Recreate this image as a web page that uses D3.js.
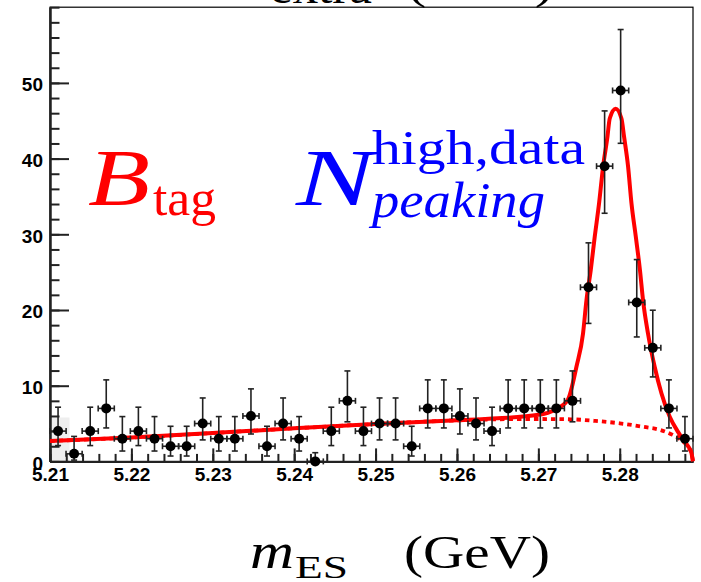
<!DOCTYPE html>
<html>
<head>
<meta charset="utf-8">
<title>mES fit</title>
<script src="https://d3js.org/d3.v7.min.js"></script>
<style>
  body { margin: 0; background: #fff; }
  svg { display: block; }
  .axis text { font-family: "Liberation Sans", Arial, sans-serif; font-weight: bold; font-size: 19px; fill: #000; }
  .axis path, .axis line { stroke: #222; stroke-width: 2px; }
  .tex { font-family: "Liberation Serif", "DejaVu Serif", serif; }
</style>
</head>
<body>
<script>
// bin centres of the histogram (GeV), 40 bins over 5.21 - 5.289
var mES = [5.21099, 5.21296, 5.21494, 5.21691, 5.21889, 5.22086, 5.22284, 5.22481, 5.22679, 5.22876,
           5.23074, 5.23271, 5.23469, 5.23666, 5.23864, 5.24061, 5.24259, 5.24456, 5.24654, 5.24851,
           5.25049, 5.25246, 5.25444, 5.25641, 5.25839, 5.26036, 5.26234, 5.26431, 5.26629, 5.26826,
           5.27024, 5.27221, 5.27419, 5.27616, 5.27814, 5.28011, 5.28209, 5.28406, 5.28604, 5.28801];
var counts = [4, 1, 4, 7, 3, 4, 3, 2, 2, 5,
              3, 3, 6, 2, 5, 3, 0, 4, 8, 4,
              5, 5, 2, 7, 7, 6, 5, 4, 7, 7,
              7, 7, 8, 23, 39, 49, 21, 15, 7, 3];
// asymmetric (poisson) errors
var errLo = [1.91, 0.83, 1.91, 2.58, 1.63, 1.91, 1.63, 1.29, 1.29, 2.16,
             1.63, 1.63, 2.38, 1.29, 2.16, 1.63, 0.00, 1.91, 2.77, 1.91,
             2.16, 2.16, 1.29, 2.58, 2.58, 2.38, 2.16, 1.91, 2.58, 2.58,
             2.58, 2.58, 2.77, 4.77, 6.22, 6.98, 4.56, 3.84, 2.58, 1.63];
var errHi = [3.16, 2.30, 3.16, 3.77, 2.92, 3.16, 2.92, 2.64, 2.64, 3.38,
             2.92, 2.92, 3.58, 2.64, 3.38, 2.92, 1.15, 3.16, 3.95, 3.16,
             3.38, 3.38, 2.64, 3.77, 3.77, 3.58, 3.38, 3.16, 3.77, 3.77,
             3.77, 3.77, 3.95, 5.87, 7.30, 8.05, 5.66, 4.97, 3.77, 2.92];
var binHalf = 0.00099;

// total fit curve
var fitM = [5.210, 5.220, 5.230, 5.240, 5.250, 5.260, 5.265, 5.270, 5.272, 5.2736,
            5.27468, 5.27549, 5.27591, 5.27644, 5.27693, 5.27746, 5.27795, 5.27849, 5.27877, 5.2795,
            5.28021, 5.28053, 5.28102, 5.28144, 5.28197, 5.28248, 5.28286, 5.28347, 5.28429, 5.28512,
            5.28614, 5.28716, 5.2877, 5.2884, 5.2888, 5.2890];
var fitV = [2.70, 3.15, 3.75, 4.37, 4.94, 5.42, 5.70, 6.15, 6.80, 8.1,
            12.5, 16.9, 21.3, 25.3, 29.7, 34.1, 38.9, 42.9, 45.3, 46.6,
            45.3, 42.9, 39.0, 34.1, 29.7, 25.3, 21.3, 16.9, 12.5, 9.0,
            5.9, 3.9, 3.0, 2.0, 1.15, 0];
// background (dotted)
var bkgM = [5.210, 5.220, 5.230, 5.240, 5.250, 5.260, 5.265, 5.270, 5.274, 5.277,
            5.280, 5.283, 5.285, 5.2865, 5.2877, 5.2884, 5.2888, 5.2890];
var bkgV = [2.70, 3.15, 3.75, 4.37, 4.94, 5.42, 5.56, 5.60, 5.56, 5.35,
            5.03, 4.55, 4.15, 3.5, 2.7, 1.9, 1.1, 0];

// light grey shaded bin at the left edge
var shadeM0 = [5.210], shadeM1 = [5.2124], shadeV = [5.8];

var xMajor = [5.21, 5.22, 5.23, 5.24, 5.25, 5.26, 5.27, 5.28];
var yMajor = [0, 10, 20, 30, 40, 50];

var W = 701, H = 582;
var svg = d3.select("body").append("svg").attr("width", W).attr("height", H);

var x = d3.scaleLinear().domain([5.21, 5.289]).range([50, 693]);
var y = d3.scaleLinear().domain([0, 60]).range([461.4, 7.2]);

// partial title of the panel above
var topTitle = svg.append("g").attr("class", "tex");
topTitle.append("text").attr("x", 270).attr("y", 3).attr("font-size", 44)
    .attr("textLength", 102).attr("lengthAdjust", "spacingAndGlyphs").text("extra");
topTitle.append("text").attr("x", 407).attr("y", -2).attr("font-size", 46)
    .attr("textLength", 147).attr("lengthAdjust", "spacingAndGlyphs").text("(GeV)");

// shade
svg.selectAll("rect.shade").data(shadeV).enter().append("rect")
    .attr("class", "shade")
    .attr("x", function(d, i) { return x(shadeM0[i]); })
    .attr("width", function(d, i) { return x(shadeM1[i]) - x(shadeM0[i]); })
    .attr("y", function(d) { return y(d); })
    .attr("height", function(d) { return y(0) - y(d); })
    .attr("fill", "#eeeeee");

// frame
svg.append("rect").attr("x", 50).attr("y", 7.2).attr("width", 643).attr("height", 454.2)
    .attr("fill", "none").attr("stroke", "#000").attr("stroke-width", 1.2);

// minor ticks
svg.append("g").attr("class", "axis")
    .attr("transform", "translate(0," + y(0) + ")")
    .call(d3.axisBottom(x).tickValues(d3.range(0, 40).map(function(i) { return 5.21 + i * 0.002; }))
        .tickSizeInner(-7.5).tickSizeOuter(0).tickFormat(""));
svg.append("g").attr("class", "axis")
    .attr("transform", "translate(50,0)")
    .call(d3.axisLeft(y).tickValues(d3.range(0, 31).map(function(i) { return i * 2; }))
        .tickSizeInner(-9.5).tickSizeOuter(0).tickFormat(""));

// major ticks + labels
svg.append("g").attr("class", "axis")
    .attr("transform", "translate(0," + y(0) + ")")
    .call(d3.axisBottom(x).tickValues(xMajor).tickSizeInner(-13).tickSizeOuter(0)
        .tickPadding(6).tickFormat(d3.format(".2f")));
svg.append("g").attr("class", "axis")
    .attr("transform", "translate(50,0)")
    .call(d3.axisLeft(y).tickValues(yMajor).tickSizeInner(-19).tickSizeOuter(0)
        .tickPadding(7).tickFormat(d3.format("d")))
    .selectAll("text").attr("dy", "0.42em");

// fit curves
var fitLine = d3.line().x(function(d) { return x(d[0]); }).y(function(d) { return y(d[1]); })
    .curve(d3.curveMonotoneX);
svg.append("path").datum(d3.zip(bkgM, bkgV))
    .attr("d", fitLine).attr("fill", "none").attr("stroke", "#ff0000")
    .attr("stroke-width", 3.8).attr("stroke-dasharray", "4.5,4");
svg.append("path").datum(d3.zip(fitM, fitV))
    .attr("d", fitLine).attr("fill", "none").attr("stroke", "#ff0000")
    .attr("stroke-width", 4);

// data points
var pts = svg.append("g").selectAll("g").data(counts).enter().append("g");
pts.append("line")
    .attr("x1", function(d, i) { return x(mES[i]); }).attr("x2", function(d, i) { return x(mES[i]); })
    .attr("y1", function(d, i) { return y(d - errLo[i]); }).attr("y2", function(d, i) { return y(d + errHi[i]); })
    .attr("stroke", "#222").attr("stroke-width", 1.6);
pts.append("line")
    .attr("x1", function(d, i) { return x(mES[i]) - 3; }).attr("x2", function(d, i) { return x(mES[i]) + 3; })
    .attr("y1", function(d, i) { return y(d + errHi[i]); }).attr("y2", function(d, i) { return y(d + errHi[i]); })
    .attr("stroke", "#222").attr("stroke-width", 1.6);
pts.append("line")
    .attr("x1", function(d, i) { return x(mES[i]) - 3; }).attr("x2", function(d, i) { return x(mES[i]) + 3; })
    .attr("y1", function(d, i) { return y(d - errLo[i]); }).attr("y2", function(d, i) { return y(d - errLo[i]); })
    .attr("stroke", "#222").attr("stroke-width", 1.6)
    .attr("display", function(d, i) { return errLo[i] > 0 ? null : "none"; });
pts.append("line")
    .attr("x1", function(d, i) { return x(mES[i] - binHalf); }).attr("x2", function(d, i) { return x(mES[i] + binHalf); })
    .attr("y1", function(d) { return y(d); }).attr("y2", function(d) { return y(d); })
    .attr("stroke", "#222").attr("stroke-width", 1.6);
[-1, 1].forEach(function(s) {
    pts.append("line")
        .attr("x1", function(d, i) { return x(mES[i] + s * binHalf); })
        .attr("x2", function(d, i) { return x(mES[i] + s * binHalf); })
        .attr("y1", function(d) { return y(d) - 3; }).attr("y2", function(d) { return y(d) + 3; })
        .attr("stroke", "#222").attr("stroke-width", 1.6);
});
pts.append("circle")
    .attr("cx", function(d, i) { return x(mES[i]); })
    .attr("cy", function(d) { return y(d); })
    .attr("r", 5).attr("fill", "#000");

// annotations
var ann = svg.append("g").attr("class", "tex");
ann.append("text").attr("x", 88).attr("y", 205).attr("font-size", 80).attr("font-style", "italic")
    .attr("fill", "#ff0000").attr("textLength", 62).attr("lengthAdjust", "spacingAndGlyphs").text("B");
ann.append("text").attr("x", 153).attr("y", 215).attr("font-size", 50)
    .attr("fill", "#ff0000").attr("textLength", 63).attr("lengthAdjust", "spacingAndGlyphs").text("tag");
ann.append("text").attr("x", 296).attr("y", 205).attr("font-size", 80).attr("font-style", "italic")
    .attr("fill", "#0000ff").attr("textLength", 78).attr("lengthAdjust", "spacingAndGlyphs").text("N");
ann.append("text").attr("x", 372).attr("y", 164).attr("font-size", 48)
    .attr("fill", "#0000ff").attr("textLength", 213).attr("lengthAdjust", "spacingAndGlyphs").text("high,data");
ann.append("text").attr("x", 372).attr("y", 217).attr("font-size", 50).attr("font-style", "italic")
    .attr("fill", "#0000ff").attr("textLength", 173).attr("lengthAdjust", "spacingAndGlyphs").text("peaking");

// x axis title
var xt = svg.append("g").attr("class", "tex");
xt.append("text").attr("x", 250).attr("y", 568).attr("font-size", 50).attr("font-style", "italic")
    .attr("textLength", 44).attr("lengthAdjust", "spacingAndGlyphs").text("m");
xt.append("text").attr("x", 295).attr("y", 578).attr("font-size", 31)
    .attr("textLength", 53).attr("lengthAdjust", "spacingAndGlyphs").text("ES");
xt.append("text").attr("x", 404).attr("y", 568).attr("font-size", 46)
    .attr("textLength", 146).attr("lengthAdjust", "spacingAndGlyphs").text("(GeV)");
</script>
</body>
</html>
